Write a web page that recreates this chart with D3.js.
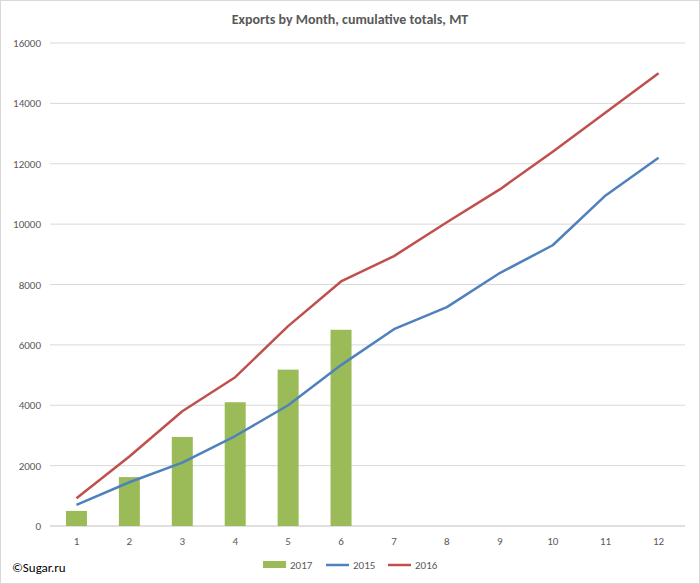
<!DOCTYPE html>
<html><head><meta charset="utf-8">
<script src="https://cdn.jsdelivr.net/npm/d3@7"></script>
<style>body{margin:0;background:#fff;font-family:Calibri,'Liberation Sans',Arial,sans-serif}</style>
</head><body>
<svg id="chart" width="700" height="584"></svg>
<script>
const months = [1,2,3,4,5,6,7,8,9,10,11,12];
const s2017 = [500,1620,2950,4100,5180,6500];
const s2015 = [700,1450,2100,2980,4000,5330,6520,7250,8380,9300,10950,12200];
const s2016 = [920,2300,3800,4930,6620,8100,8940,10060,11150,12400,13700,15000];
const yTicks = [0,2000,4000,6000,8000,10000,12000,14000,16000];

const svg = d3.select('#chart');
svg.append('rect').attr('x',0.5).attr('y',0.5).attr('width',699).attr('height',583)
  .attr('fill','#fff').attr('stroke','#d9d9d9');

const m = {left: 50, right: 685, top: 43, bottom: 526};
const x = d3.scaleBand().domain(months).range([m.left, m.right]);
const y = d3.scaleLinear().domain([0,16000]).range([m.bottom, m.top]);

svg.append('g').selectAll('line').data(yTicks).join('line')
  .attr('x1',m.left).attr('x2',m.right).attr('y1',d=>y(d)).attr('y2',d=>y(d))
  .attr('stroke',d=>d===0?'#bfbfbf':'#d9d9d9');

svg.append('g').selectAll('text').data(yTicks).join('text')
  .attr('x',m.left-9).attr('y',d=>y(d)+4).attr('text-anchor','end')
  .attr('font-size',11).attr('fill','#595959').text(d=>d);

svg.append('g').selectAll('text').data(months).join('text')
  .attr('x',d=>x(d)+x.bandwidth()/2).attr('y',m.bottom+19).attr('text-anchor','middle')
  .attr('font-size',11).attr('fill','#595959').text(d=>d);

const bw = 21;
svg.append('g').selectAll('rect').data(s2017).join('rect')
  .attr('x',(d,i)=>x(months[i])+x.bandwidth()/2-bw/2).attr('width',bw)
  .attr('y',d=>y(d)).attr('height',d=>m.bottom-y(d)).attr('fill','#9bbb59');

const line = d3.line().x((d,i)=>x(months[i])+x.bandwidth()/2).y(d=>y(d));
svg.append('path').datum(s2015).attr('d',line).attr('fill','none')
  .attr('stroke','#4f81bd').attr('stroke-width',2.5).attr('stroke-linejoin','round');
svg.append('path').datum(s2016).attr('d',line).attr('fill','none')
  .attr('stroke','#c0504d').attr('stroke-width',2.5).attr('stroke-linejoin','round');

svg.append('text').attr('x',350).attr('y',24).attr('text-anchor','middle')
  .attr('font-size',14).attr('font-weight','bold').attr('fill','#595959')
  .text('Exports by Month, cumulative totals, MT');

const legend = [
  {name:'2017', color:'#9bbb59', type:'bar', x:263},
  {name:'2015', color:'#4f81bd', type:'line', x:326},
  {name:'2016', color:'#c0504d', type:'line', x:388}
];
const lg = svg.append('g');
legend.forEach(l => {
  if (l.type==='bar') lg.append('rect').attr('x',l.x).attr('y',561).attr('width',23).attr('height',7).attr('fill',l.color);
  else lg.append('line').attr('x1',l.x).attr('x2',l.x+23).attr('y1',565).attr('y2',565).attr('stroke',l.color).attr('stroke-width',2.5);
  lg.append('text').attr('x',l.x+27).attr('y',569).attr('font-size',11).attr('fill','#595959').text(l.name);
});

svg.append('text').attr('x',12).attr('y',572).attr('font-size',13).attr('fill','#000').text('©Sugar.ru');
</script>
</body></html>
